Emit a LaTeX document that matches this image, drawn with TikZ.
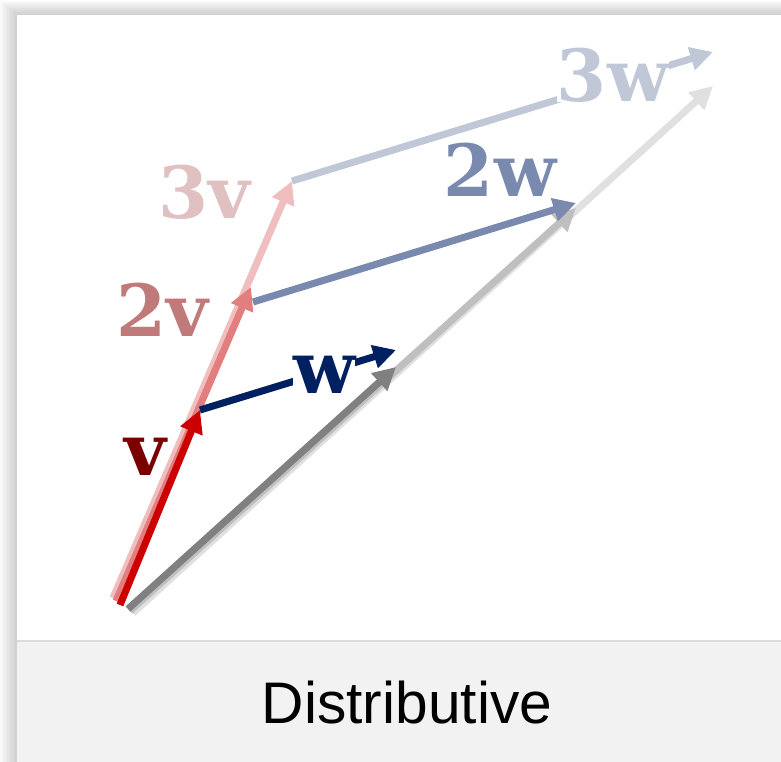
\documentclass[tikz,border=0pt]{standalone}
\usepackage{fontspec}
\usepackage{xcolor}
\setmainfont{Liberation Sans}
\newfontfamily\vecfont{DejaVu Serif}
\usetikzlibrary{arrows.meta, math}
\definecolor{vred}{RGB}{204,0,0}
\definecolor{vredlbl}{RGB}{122,0,0}
\definecolor{vtwo}{RGB}{226,126,126}
\definecolor{vtwolbl}{RGB}{192,122,122}
\definecolor{vthree}{RGB}{240,190,190}
\definecolor{vthreelbl}{RGB}{224,192,192}
\definecolor{wblue}{RGB}{0,32,96}
\definecolor{wtwo}{RGB}{122,138,174}
\definecolor{wthree}{RGB}{192,200,216}
\definecolor{capgray}{RGB}{242,242,242}
\definecolor{capline}{RGB}{220,220,220}

\begin{document}
\begin{tikzpicture}[x=0.75pt,y=-0.75pt]
\tikzmath{
\W=781;
\H=762;
\lw=5.3;
\tip=17;
}
\tikzset{
vec/.style={line width=\lw pt,-{Triangle[length=\tip pt,width=\tip pt]}},
lbl/.style={inner sep=0pt,font=\vecfont\bfseries\fontsize{54}{58}\selectfont},
halo/.style={lbl,fill=white}
}
\useasboundingbox (0,0) rectangle (\W,\H);

%panel, shadow and caption bar
\foreach \s in {1,...,10}{
\fill[black,opacity=0.02] (17-\s*1.7,15-\s*1.4) rectangle (\W,\H);
}
\fill[white] (17,15) rectangle (\W,\H);
\fill[capgray] (17,641) rectangle (\W,\H);
\draw[capline,line width=1pt] (17,641) -- (\W,641);
\node[anchor=base,font=\fontsize{44}{48}\selectfont] (cap) at (407,723) {Distributive};

\coordinate (Os3) at (133,613);%sum vectors
\coordinate (Ts3) at (713,86);
\coordinate (Os2) at (130,611);
\coordinate (Ts2) at (576,208);
\coordinate (Os1) at (128,609);
\coordinate (Ts1) at (396,367);
\coordinate (O3v) at (113,598);%multiples of v
\coordinate (T3v) at (292,181);
\coordinate (O2v) at (116,601);
\coordinate (T2v) at (251,287);
\coordinate (Ov) at (120,605);
\coordinate (Tv) at (200,410);
\coordinate (S2w) at (253,302);%multiples of w
\coordinate (T2w) at (576,203);
\coordinate (T3w) at (713,52);
\coordinate (Tw) at (396,350);

%v + w, 2(v + w), 3(v + w)
\draw[vec,black!12] (Os3) -- (Ts3);
\draw[vec,black!25] (Os2) -- (Ts2);
\draw[vec,black!50] (Os1) -- (Ts1);

%v, 2v, 3v
\draw[vec,vthree] (O3v) -- (T3v);
\draw[vec,vtwo] (O2v) -- (T2v);
\draw[vec,vred] (Ov) -- (Tv);

%w, 2w, 3w
\draw[vec,wthree] (T3v) -- (T3w);
\draw[vec,wtwo] (S2w) -- (T2w);
\draw[vec,wblue] (Tv) -- (Tw);

%labels
\node[lbl,text=vredlbl] (lv) at (145,457) {v};
\node[lbl,text=vtwolbl] (l2v) at (162,310) {2v};
\node[lbl,text=vthreelbl] (l3v) at (204,192) {3v};
\node[halo,text=wblue] (lw) at (324,375) {w};
\node[halo,text=wtwo] (l2w) at (500,170) {2w};
\node[halo,text=wthree] (l3w) at (613,75) {3w};
\end{tikzpicture}
\end{document}
